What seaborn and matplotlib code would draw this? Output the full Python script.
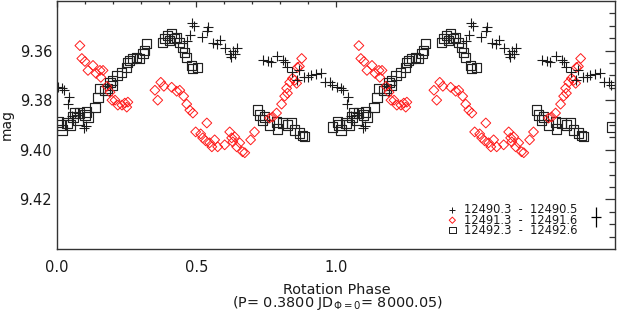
import numpy as np
import pandas as pd
import seaborn as sns
import matplotlib
matplotlib.use('Agg')
import matplotlib.pyplot as plt
from matplotlib.ticker import FixedLocator, FormatStrFormatter

# ----- light curve data, one rotation (phase 0..1) -----
plus_phase = [0.004, 0.018, 0.025, 0.043, 0.039, 0.054, 0.075, 0.097, 0.104,
              0.465, 0.476, 0.483, 0.490, 0.519, 0.537, 0.540, 0.558, 0.572,
              0.583, 0.601, 0.619, 0.623, 0.630, 0.637, 0.644,
              0.737, 0.755, 0.766, 0.787, 0.809, 0.819, 0.823, 0.844, 0.859,
              0.869, 0.887, 0.898, 0.912, 0.930, 0.948, 0.959, 0.977, 0.987]
plus_mag = [9.3748, 9.3752, 9.3760, 9.3788, 9.3816, 9.3864, 9.3852, 9.3912, 9.3904,
            9.3560, 9.3536, 9.3488, 9.3500, 9.3544, 9.3520, 9.3504, 9.3568, 9.3572,
            9.3556, 9.3588, 9.3612, 9.3624, 9.3600, 9.3612, 9.3588,
            9.3640, 9.3644, 9.3648, 9.3620, 9.3640, 9.3648, 9.3668, 9.3688, 9.3720,
            9.3680, 9.3708, 9.3708, 9.3700, 9.3696, 9.3692, 9.3728, 9.3728, 9.3740]

diamond_phase = [0.082, 0.089, 0.100, 0.111, 0.129, 0.140, 0.154, 0.165, 0.157,
                 0.179, 0.190, 0.197, 0.208, 0.218, 0.233, 0.243, 0.250, 0.254,
                 0.351, 0.361, 0.372, 0.383, 0.411, 0.429, 0.440, 0.454, 0.465,
                 0.476, 0.487, 0.537, 0.497, 0.515, 0.522, 0.533, 0.547, 0.565,
                 0.555, 0.576, 0.601, 0.619, 0.626, 0.637, 0.630, 0.644, 0.655,
                 0.665, 0.673, 0.694, 0.708,
                 0.762, 0.773, 0.787, 0.805, 0.816, 0.826, 0.823, 0.834, 0.844,
                 0.852, 0.859, 0.862, 0.869, 0.877]
diamond_mag = [9.3580, 9.3632, 9.3644, 9.3680, 9.3660, 9.3692, 9.3680, 9.3680, 9.3708,
               9.3744, 9.3768, 9.3800, 9.3800, 9.3820, 9.3820, 9.3812, 9.3828, 9.3808,
               9.3760, 9.3800, 9.3728, 9.3744, 9.3748, 9.3764, 9.3760, 9.3784, 9.3816,
               9.3840, 9.3852, 9.3892, 9.3928, 9.3936, 9.3952, 9.3964, 9.3972, 9.3960,
               9.3988, 9.3988, 9.3980, 9.3928, 9.3952, 9.3948, 9.3968, 9.3988, 9.3972,
               9.4008, 9.4012, 9.3960, 9.3928,
               9.3872, 9.3868, 9.3852, 9.3816, 9.3784, 9.3772, 9.3752, 9.3728, 9.3712,
               9.3720, 9.3732, 9.3668, 9.3664, 9.3632]

square_phase = [0.004, 0.011, 0.018, 0.036, 0.047, 0.057, 0.064, 0.075, 0.082, 0.100,
                0.111, 0.107, 0.136, 0.147, 0.154, 0.172, 0.182, 0.190, 0.197, 0.200,
                0.215, 0.230, 0.250, 0.254, 0.261, 0.272, 0.286, 0.297, 0.308, 0.315,
                0.322,
                0.379, 0.386, 0.397, 0.404, 0.411, 0.422, 0.429, 0.440, 0.451, 0.458,
                0.465, 0.483, 0.487, 0.504,
                0.719, 0.726, 0.744, 0.737, 0.762, 0.787, 0.791, 0.809, 0.826, 0.841,
                0.852, 0.869, 0.880, 0.887, 0.987]
square_mag = [9.3888, 9.3900, 9.3920, 9.3892, 9.3900, 9.3868, 9.3852, 9.3880, 9.3852, 9.3860,
              9.3868, 9.3848, 9.3828, 9.3788, 9.3752, 9.3760, 9.3752, 9.3728, 9.3740, 9.3720,
              9.3700, 9.3688, 9.3668, 9.3648, 9.3640, 9.3632, 9.3628, 9.3632, 9.3612, 9.3600,
              9.3572,
              9.3568, 9.3552, 9.3540, 9.3560, 9.3532, 9.3552, 9.3548, 9.3568, 9.3588, 9.3608,
              9.3628, 9.3660, 9.3672, 9.3668,
              9.3840, 9.3860, 9.3868, 9.3880, 9.3900, 9.3888, 9.3916, 9.3892, 9.3900, 9.3892,
              9.3920, 9.3932, 9.3944, 9.3948, 9.3908]

legend_labels = ['12490.3  -  12490.5', '12491.3  -  12491.6', '12492.3  -  12492.6']

# typical error bar shown at lower right
err_phase = 1.932
err_mag = 9.4272
err_dphase = 0.018
err_dmag = 0.004


def two_cycles(phase, mag):
    # repeat the rotation so phase runs 0..2
    df = pd.DataFrame({'phase': phase, 'mag': mag})
    df2 = df.copy()
    df2['phase'] = df2['phase'] + 1.0
    return pd.concat([df, df2], ignore_index=True)


df_plus = two_cycles(plus_phase, plus_mag)
df_diamond = two_cycles(diamond_phase, diamond_mag)
df_square = two_cycles(square_phase, square_mag)

sns.set_style('white')
plt.rcParams['font.family'] = ['DejaVu Sans']
plt.rcParams['mathtext.default'] = 'regular'

fig = plt.figure(figsize=(6.21, 3.14), dpi=100)
ax = fig.add_axes([0.0918, 0.207, 0.8985, 0.790])

sns.scatterplot(data=df_square, x='phase', y='mag', marker='s', s=44,
                facecolor='none', edgecolor='#222222', linewidth=0.85, ax=ax)
sns.scatterplot(data=df_diamond, x='phase', y='mag', marker='D', s=25,
                facecolor='none', edgecolor='#ff1a1a', linewidth=0.7, ax=ax)
sns.scatterplot(data=df_plus, x='phase', y='mag', marker='+', s=52,
                color='#1a1a1a', linewidth=0.8, ax=ax)

# legend block: symbols plus one tightly spaced three-line text
leg_marker_x = 1.417
leg_text_x = 1.458
leg_rows = [9.4244, 9.4284, 9.4324]
ax.scatter([leg_marker_x], [leg_rows[0]], marker='+', s=22, color='#1a1a1a', linewidth=0.7)
ax.scatter([leg_marker_x], [leg_rows[1]], marker='D', s=10, facecolor='none',
           edgecolor='#ff1a1a', linewidth=0.7)
ax.scatter([leg_marker_x], [leg_rows[2]], marker='s', s=22, facecolor='none',
           edgecolor='#1a1a1a', linewidth=0.7)
ax.text(leg_text_x, leg_rows[1], '\n'.join(legend_labels), fontsize=8.3,
        linespacing=0.76, va='center', ha='left', color='#1a1a1a')

ax.errorbar(err_phase, err_mag, xerr=err_dphase, yerr=err_dmag, fmt='none',
            ecolor='black', elinewidth=0.9, capsize=0)

ax.set_xlim(0, 2.0)
ax.set_ylim(9.44, 9.34)

ax.xaxis.set_major_locator(FixedLocator([0.0, 0.5, 1.0]))
ax.xaxis.set_minor_locator(FixedLocator([0.1, 0.2, 0.3, 0.4, 0.6, 0.7, 0.8, 0.9]))
ax.yaxis.set_major_locator(FixedLocator([9.36, 9.38, 9.40, 9.42]))
ax.yaxis.set_minor_locator(FixedLocator(np.arange(9.345, 9.44, 0.005)))
ax.xaxis.set_major_formatter(FormatStrFormatter('%.1f'))
ax.yaxis.set_major_formatter(FormatStrFormatter('%.2f'))

ax.tick_params(which='both', direction='in', top=True, right=True,
               color='#333333', width=0.9, labelsize=10.5, labelcolor='#1a1a1a')
ax.tick_params(axis='y', which='major', length=7.2, pad=3.6)
ax.tick_params(axis='y', which='minor', length=4)
ax.tick_params(axis='x', which='major', length=4, pad=8)
ax.tick_params(axis='x', which='minor', length=2.4)

for sp in ax.spines.values():
    sp.set_color('#333333')
    sp.set_linewidth(1.0)

ax.set_xlabel('')
ax.set_ylabel('mag', fontsize=10, color='#1a1a1a')
ax.yaxis.set_label_coords(-0.078, 0.5)

# two-line x axis caption as one text
fig.text(0.543, 1.5 / 314,
         'Rotation Phase\n' + r'(P= 0.3800 JD$_{\Phi=0}$= 8000.05)',
         ha='center', va='bottom', multialignment='center', linespacing=0.82,
         fontsize=10.4, color='#1a1a1a')

plt.savefig('out.png', dpi=100)
